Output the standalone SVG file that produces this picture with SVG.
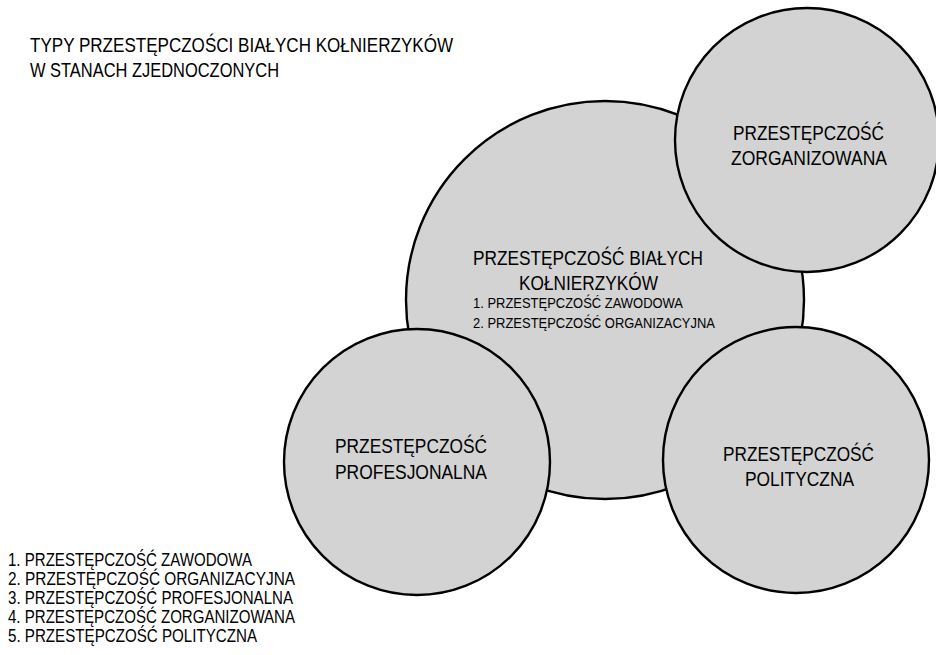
<svg xmlns="http://www.w3.org/2000/svg" width="936" height="655" viewBox="0 0 936 655">
<style>
.c{fill:#d3d3d3;stroke:#000;stroke-width:2.4}
text{font-family:"Liberation Sans",Arial,sans-serif;fill:#000}
.t{font-size:21px}
.s{font-size:15.5px}
.l{font-size:18px}
</style>
<rect width="936" height="655" fill="#fff"/>
<g id="title">
<text class="t" x="30" y="52" textLength="423" lengthAdjust="spacingAndGlyphs">TYPY PRZESTĘPCZOŚCI BIAŁYCH KOŁNIERZYKÓW</text>
<text class="t" x="30" y="77" textLength="249" lengthAdjust="spacingAndGlyphs">W STANACH ZJEDNOCZONYCH</text>
</g>
<g id="connectors"></g>
<g id="node-center">
<circle class="c" cx="605" cy="300" r="199"/>
<text class="t" x="473" y="265" textLength="230" lengthAdjust="spacingAndGlyphs">PRZESTĘPCZOŚĆ BIAŁYCH</text>
<text class="t" x="519" y="290" textLength="139" lengthAdjust="spacingAndGlyphs">KOŁNIERZYKÓW</text>
<text class="s" x="473" y="308" textLength="210" lengthAdjust="spacingAndGlyphs">1. PRZESTĘPCZOŚĆ ZAWODOWA</text>
<text class="s" x="473" y="328" textLength="242" lengthAdjust="spacingAndGlyphs">2. PRZESTĘPCZOŚĆ ORGANIZACYJNA</text>
</g>
<g id="node-zorganizowana">
<circle class="c" cx="807" cy="140" r="132"/>
<text class="t" x="733" y="140" textLength="151" lengthAdjust="spacingAndGlyphs">PRZESTĘPCZOŚĆ</text>
<text class="t" x="731" y="165" textLength="156" lengthAdjust="spacingAndGlyphs">ZORGANIZOWANA</text>
</g>
<g id="node-profesjonalna">
<circle class="c" cx="417" cy="462" r="133"/>
<text class="t" x="335" y="453" textLength="152" lengthAdjust="spacingAndGlyphs">PRZESTĘPCZOŚĆ</text>
<text class="t" x="335" y="479" textLength="152" lengthAdjust="spacingAndGlyphs">PROFESJONALNA</text>
</g>
<g id="node-polityczna">
<circle class="c" cx="796" cy="460" r="133"/>
<text class="t" x="723" y="461" textLength="151" lengthAdjust="spacingAndGlyphs">PRZESTĘPCZOŚĆ</text>
<text class="t" x="745" y="486" textLength="109" lengthAdjust="spacingAndGlyphs">POLITYCZNA</text>
</g>
<g id="legend">
<text class="l" x="8" y="566" textLength="244" lengthAdjust="spacingAndGlyphs">1. PRZESTĘPCZOŚĆ ZAWODOWA</text>
<text class="l" x="8" y="585" textLength="287" lengthAdjust="spacingAndGlyphs">2. PRZESTĘPCZOŚĆ ORGANIZACYJNA</text>
<text class="l" x="8" y="604" textLength="285" lengthAdjust="spacingAndGlyphs">3. PRZESTĘPCZOŚĆ PROFESJONALNA</text>
<text class="l" x="8" y="623" textLength="287" lengthAdjust="spacingAndGlyphs">4. PRZESTĘPCZOŚĆ ZORGANIZOWANA</text>
<text class="l" x="8" y="642" textLength="249" lengthAdjust="spacingAndGlyphs">5. PRZESTĘPCZOŚĆ POLITYCZNA</text>
</g>
</svg>
